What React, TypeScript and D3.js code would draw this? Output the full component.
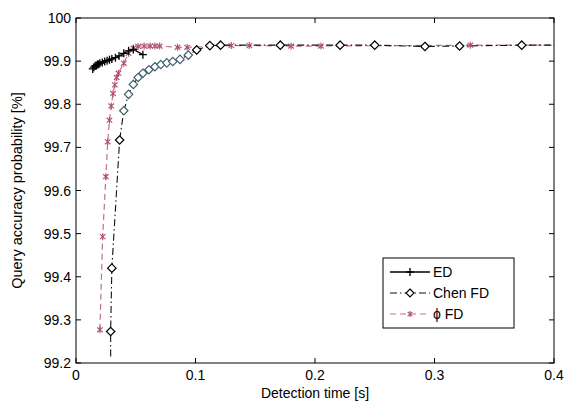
import React, { useRef, useEffect } from 'react';
import * as d3 from 'd3';

// ED
const edTime = [0.014, 0.015, 0.016, 0.017, 0.018, 0.019, 0.020, 0.022, 0.024, 0.026, 0.028, 0.030, 0.033, 0.036, 0.040, 0.044, 0.048, 0.056];
const edAcc = [99.882, 99.886, 99.889, 99.890, 99.892, 99.893, 99.895, 99.897, 99.899, 99.901, 99.903, 99.905, 99.908, 99.912, 99.918, 99.924, 99.927, 99.915];

// Chen FD
const chenTime = [0.029, 0.029, 0.030, 0.0365, 0.040, 0.044, 0.048, 0.052, 0.056, 0.061, 0.066, 0.071, 0.076, 0.081, 0.087, 0.094, 0.101, 0.112, 0.121, 0.171, 0.221, 0.250, 0.292, 0.321, 0.373, 0.4];
const chenAcc = [99.215, 99.273, 99.42, 99.717, 99.785, 99.823, 99.846, 99.862, 99.872, 99.880, 99.887, 99.892, 99.896, 99.899, 99.904, 99.914, 99.926, 99.936, 99.937, 99.937, 99.937, 99.937, 99.934, 99.935, 99.937, 99.937];
const chenMarked = [false, true, true, true, true, true, true, true, true, true, true, true, true, true, true, true, true, true, true, true, true, true, true, true, true, false];

// phi FD
const phiTime = [0.020, 0.0223, 0.025, 0.0265, 0.028, 0.0295, 0.031, 0.0325, 0.034, 0.0355, 0.040, 0.044, 0.048, 0.052, 0.057, 0.062, 0.066, 0.070, 0.085, 0.093, 0.13, 0.145, 0.18, 0.205, 0.33, 0.4];
const phiAcc = [99.277, 99.493, 99.632, 99.713, 99.763, 99.796, 99.825, 99.845, 99.862, 99.872, 99.895, 99.918, 99.93, 99.934, 99.935, 99.935, 99.935, 99.935, 99.932, 99.932, 99.936, 99.936, 99.935, 99.935, 99.937, 99.937];
const phiMarked = [true, true, true, true, true, true, true, true, true, true, true, true, true, true, true, true, true, true, true, true, true, true, true, true, true, false];

const xTicks = [0, 0.1, 0.2, 0.3, 0.4];
const yTicks = [99.2, 99.3, 99.4, 99.5, 99.6, 99.7, 99.8, 99.9, 100];
const legendLabels = ['ED', 'Chen FD', 'ϕ FD'];

const W = 568;
const H = 402;
const M = { left: 76, right: 14, top: 18, bottom: 39 };
const FONT = '"Liberation Sans", Arial, sans-serif';
const PINK = '#c0708c';

const App = () => {
  const svgRef = useRef<SVGSVGElement>(null);

  useEffect(() => {
    document.body.style.margin = '0';
    const svg = d3.select(svgRef.current).attr('width', W).attr('height', H);
    svg.selectAll('*').remove();
    svg.append('rect').attr('width', W).attr('height', H).attr('fill', '#fff');

    const x = d3.scaleLinear().domain([0, 0.4]).range([M.left, W - M.right]);
    const y = d3.scaleLinear().domain([99.2, 100]).range([H - M.bottom, M.top]);
    const g = svg.append('g');

    // series
    const line = d3.line<[number, number]>().x((d) => x(d[0])).y((d) => y(d[1]));
    const zip = (a: number[], b: number[]) => a.map((v, i) => [v, b[i]] as [number, number]);

    const ed = zip(edTime, edAcc);
    const chen = zip(chenTime, chenAcc);
    const phi = zip(phiTime, phiAcc);

    g.append('path').attr('d', line(phi)).attr('fill', 'none')
      .attr('stroke', PINK).attr('stroke-width', 1.2).attr('stroke-dasharray', '6,4');
    g.append('path').attr('d', line(chen)).attr('fill', 'none')
      .attr('stroke', '#111').attr('stroke-width', 1.1).attr('stroke-dasharray', '7,3,1.5,3');
    g.append('path').attr('d', line(ed)).attr('fill', 'none')
      .attr('stroke', '#000').attr('stroke-width', 1.3);

    const star = (px: number, py: number, r: number) =>
      `M${px},${py - r}L${px},${py + r}` +
      `M${px - r * 0.8},${py - r * 0.7}L${px + r * 0.8},${py + r * 0.7}M${px - r * 0.8},${py + r * 0.7}L${px + r * 0.8},${py - r * 0.7}`;
    const plus = (px: number, py: number, r: number) =>
      `M${px - r},${py}L${px + r},${py}M${px},${py - r}L${px},${py + r}`;
    const diamond = (px: number, py: number, r: number) =>
      `M${px},${py - r}L${px + r},${py}L${px},${py + r}L${px - r},${py}Z`;

    g.selectAll('.phim').data(phi.filter((_, i) => phiMarked[i])).join('path')
      .attr('d', (d) => star(x(d[0]), y(d[1]), 3.5))
      .attr('stroke', '#b0506e').attr('stroke-width', 1.1).attr('fill', 'none');

    g.selectAll('.chenm').data(chen.filter((_, i) => chenMarked[i])).join('path')
      .attr('d', (d) => diamond(x(d[0]), y(d[1]), 4.2))
      .attr('stroke', (d) => (d[0] > 0.038 && d[0] < 0.1 ? '#40606e' : '#000'))
      .attr('stroke-width', 1.2).attr('fill', '#fff');

    g.selectAll('.edm').data(ed).join('path')
      .attr('d', (d) => plus(x(d[0]), y(d[1]), 4))
      .attr('stroke', '#000').attr('stroke-width', 1.3).attr('fill', 'none');

    // box and ticks
    const x0 = M.left, x1 = W - M.right, y0 = H - M.bottom, y1 = M.top;
    g.append('rect').attr('x', x0).attr('y', y1).attr('width', x1 - x0).attr('height', y0 - y1)
      .attr('fill', 'none').attr('stroke', '#000').attr('stroke-width', 1);
    const tl = 5;
    xTicks.forEach((t) => {
      g.append('line').attr('x1', x(t)).attr('x2', x(t)).attr('y1', y0).attr('y2', y0 - tl).attr('stroke', '#000');
      g.append('line').attr('x1', x(t)).attr('x2', x(t)).attr('y1', y1).attr('y2', y1 + tl).attr('stroke', '#000');
      g.append('text').attr('x', x(t)).attr('y', y0 + 17).attr('text-anchor', 'middle')
        .attr('font-family', FONT).attr('font-size', 14).text(String(t));
    });
    yTicks.forEach((t) => {
      g.append('line').attr('x1', x0).attr('x2', x0 + tl).attr('y1', y(t)).attr('y2', y(t)).attr('stroke', '#000');
      g.append('line').attr('x1', x1).attr('x2', x1 - tl).attr('y1', y(t)).attr('y2', y(t)).attr('stroke', '#000');
      g.append('text').attr('x', x0 - 5).attr('y', y(t) + 5).attr('text-anchor', 'end')
        .attr('font-family', FONT).attr('font-size', 14).text(t === 100 ? '100' : t.toFixed(1));
    });

    g.append('text').attr('x', (x0 + x1) / 2).attr('y', 398).attr('text-anchor', 'middle')
      .attr('font-family', FONT).attr('font-size', 14).text('Detection time [s]');
    g.append('text').attr('transform', `translate(22,${(y0 + y1) / 2}) rotate(-90)`).attr('text-anchor', 'middle')
      .attr('font-family', FONT).attr('font-size', 14.5).text('Query accuracy probability [%]');

    // legend
    const lx = 383, ly = 258, lw = 131, lh = 70;
    const lg = g.append('g');
    lg.append('rect').attr('x', lx).attr('y', ly).attr('width', lw).attr('height', lh)
      .attr('fill', '#fff').attr('stroke', '#000').attr('stroke-width', 1);
    const rows = [ly + 14, ly + 35, ly + 56];
    const sx0 = lx + 7, sx1 = lx + 47, sm = (sx0 + sx1) / 2;
    lg.append('line').attr('x1', sx0).attr('x2', sx1).attr('y1', rows[0]).attr('y2', rows[0]).attr('stroke', '#000').attr('stroke-width', 1.3);
    lg.append('path').attr('d', plus(sm, rows[0], 4)).attr('stroke', '#000').attr('stroke-width', 1.3);
    lg.append('line').attr('x1', sx0).attr('x2', sx1).attr('y1', rows[1]).attr('y2', rows[1]).attr('stroke', '#111')
      .attr('stroke-width', 1.1).attr('stroke-dasharray', '7,3,1.5,3');
    lg.append('path').attr('d', diamond(sm, rows[1], 4)).attr('stroke', '#000').attr('stroke-width', 1.1).attr('fill', '#fff');
    lg.append('line').attr('x1', sx0).attr('x2', sx1).attr('y1', rows[2]).attr('y2', rows[2]).attr('stroke', PINK)
      .attr('stroke-width', 1.2).attr('stroke-dasharray', '6,4');
    lg.append('path').attr('d', star(sm, rows[2], 3)).attr('stroke', '#b0506e').attr('stroke-width', 1.1);
    legendLabels.forEach((lab, i) => {
      lg.append('text').attr('x', sx1 + 3).attr('y', rows[i] + 5).attr('font-family', FONT)
        .attr('font-size', 14).text(lab);
    });
  }, []);

  return (
    <div>
      <svg ref={svgRef}></svg>
    </div>
  );
};

export default App;
